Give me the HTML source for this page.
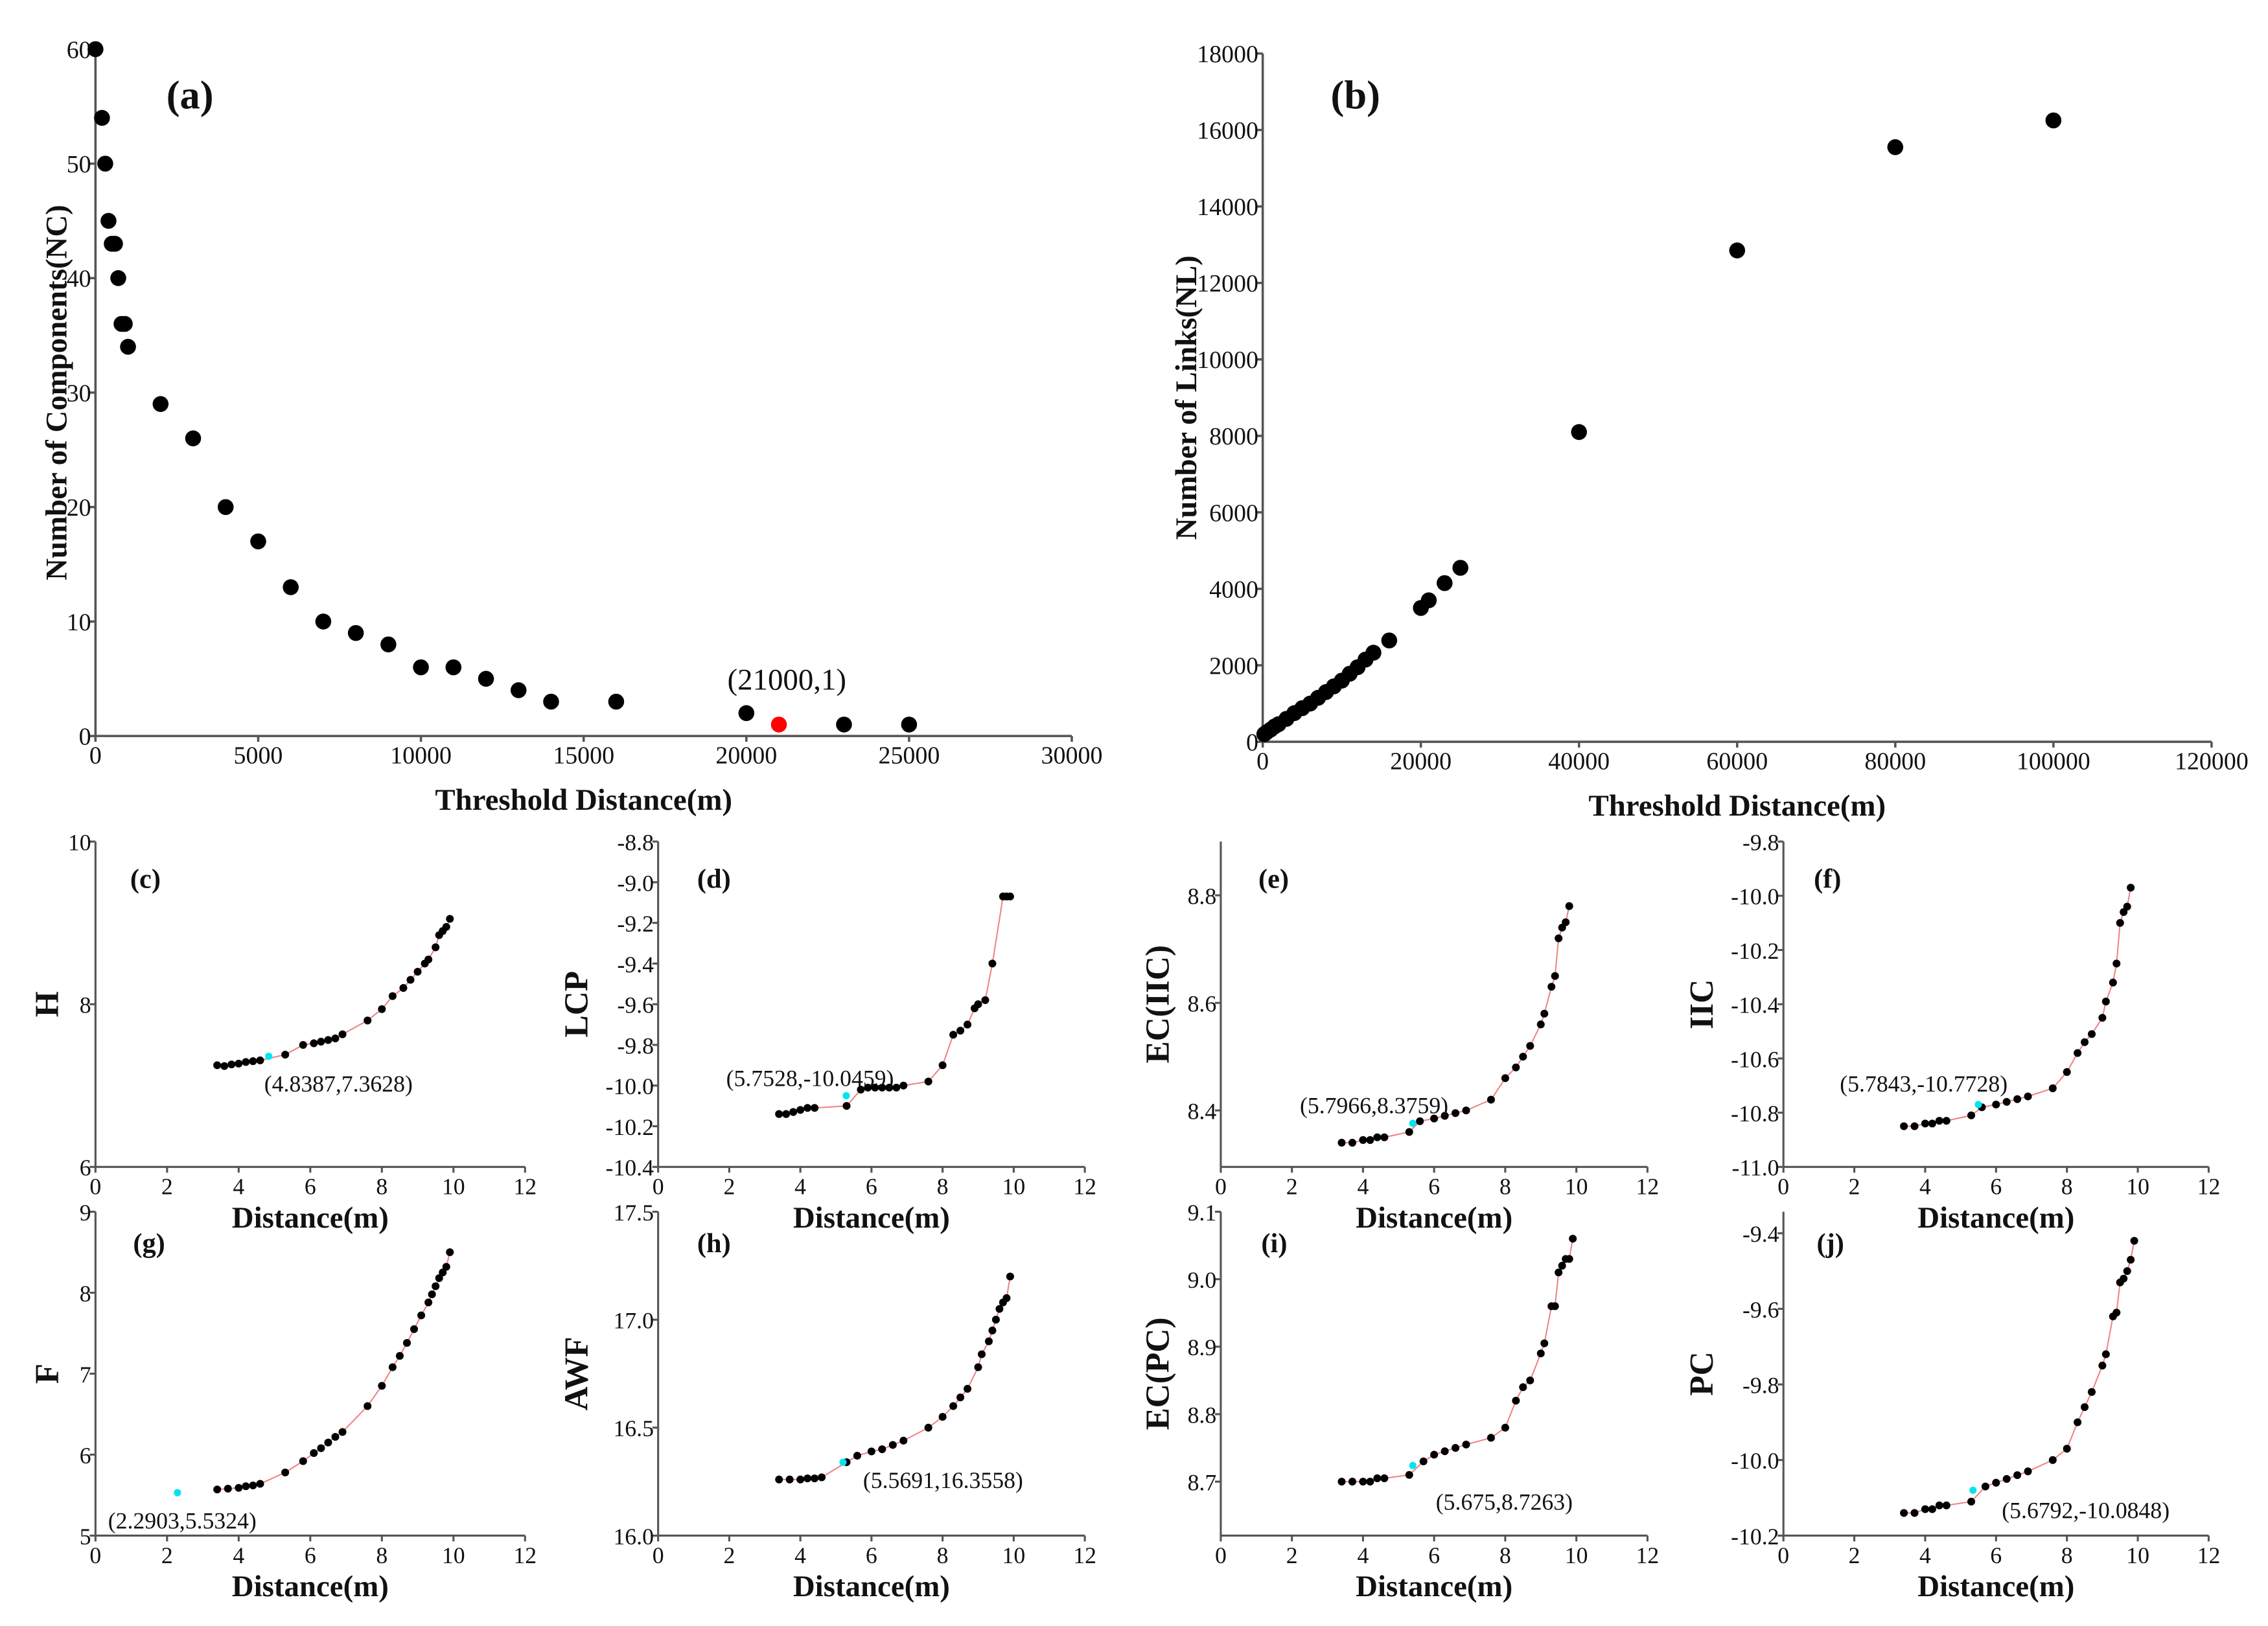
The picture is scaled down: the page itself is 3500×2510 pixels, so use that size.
<!DOCTYPE html>
<html><head><meta charset="utf-8"><style>
html,body{margin:0;padding:0;background:#fff;}
svg{display:block;}
text{font-family:"Liberation Serif",serif;fill:#111;}
</style></head><body>
<svg id="fig" width="3500" height="2510" viewBox="0 0 1568 1124.5" xmlns="http://www.w3.org/2000/svg"></svg>
<script>
// ---- Panel (a) data ----
const aX = [0,200,300,400,500,600,700,800,900,1000,2000,3000,4000,5000,6000,7000,8000,9000,10000,11000,12000,13000,14000,16000,20000,21000,23000,25000];
const aY = [60,54,50,45,43,43,40,36,36,34,29,26,20,17,13,10,9,8,6,6,5,4,3,3,2,1,1,1];
const aXTicks = [0,5000,10000,15000,20000,25000,30000];
const aYTicks = [0,10,20,30,40,50,60];
// ---- Panel (b) data ----
const bX = [200,500,1000,1500,2000,3000,4000,5000,6000,7000,8000,9000,10000,11000,12000,13000,14000,16000,20000,21000,23000,25000,40000,60000,80000,100000];
const bY = [200,250,320,400,460,600,750,880,1000,1150,1300,1450,1600,1780,1950,2150,2330,2650,3500,3700,4150,4550,8100,12850,15550,16250];
const bXTicks = [0,20000,40000,60000,80000,100000,120000];
const bYTicks = [0,2000,4000,6000,8000,10000,12000,14000,16000,18000];
// ---- small panels shared x ----
const distTicks = [0,2,4,6,8,10,12];
const cX = [3.4,3.6,3.8,4.0,4.2,4.4,4.6,5.3,5.8,6.1,6.3,6.5,6.7,6.9,7.6,8.0,8.3,8.6,8.8,9.0,9.2,9.3,9.5,9.6,9.7,9.8,9.9];
const cY = [7.25,7.24,7.26,7.27,7.29,7.30,7.31,7.38,7.50,7.52,7.54,7.56,7.58,7.63,7.80,7.94,8.10,8.20,8.30,8.40,8.50,8.55,8.70,8.85,8.90,8.95,9.05];
const cHi = [4.84,7.36];
const dX = [3.4,3.6,3.8,4.0,4.2,4.4,5.3,5.7,5.9,6.1,6.3,6.5,6.7,6.9,7.6,8.0,8.3,8.5,8.7,8.9,9.0,9.2,9.4,9.7,9.8,9.9];
const dY = [-10.14,-10.14,-10.13,-10.12,-10.11,-10.11,-10.10,-10.02,-10.01,-10.01,-10.01,-10.01,-10.01,-10.0,-9.98,-9.90,-9.75,-9.73,-9.70,-9.62,-9.60,-9.58,-9.40,-9.07,-9.07,-9.07];
const dHi = [5.29,-10.05];
const eX = [3.4,3.7,4.0,4.2,4.4,4.6,5.3,5.6,6.0,6.3,6.6,6.9,7.6,8.0,8.3,8.5,8.7,9.0,9.1,9.3,9.4,9.5,9.6,9.7,9.8];
const eY = [8.34,8.34,8.345,8.345,8.35,8.35,8.36,8.38,8.385,8.39,8.395,8.40,8.42,8.46,8.48,8.50,8.52,8.56,8.58,8.63,8.65,8.72,8.74,8.75,8.78];
const eHi = [5.4,8.376];
const fX = [3.4,3.7,4.0,4.2,4.4,4.6,5.3,5.6,6.0,6.3,6.6,6.9,7.6,8.0,8.3,8.5,8.7,9.0,9.1,9.3,9.4,9.5,9.6,9.7,9.8];
const fY = [-10.85,-10.85,-10.84,-10.84,-10.83,-10.83,-10.81,-10.78,-10.77,-10.76,-10.75,-10.74,-10.71,-10.65,-10.58,-10.54,-10.51,-10.45,-10.39,-10.32,-10.25,-10.10,-10.06,-10.04,-9.97];
const fHi = [5.5,-10.77];
const gX = [3.4,3.7,4.0,4.2,4.4,4.6,5.3,5.8,6.1,6.3,6.5,6.7,6.9,7.6,8.0,8.3,8.5,8.7,8.9,9.1,9.3,9.4,9.5,9.6,9.7,9.8,9.9];
const gY = [5.57,5.58,5.59,5.61,5.62,5.64,5.78,5.92,6.02,6.08,6.15,6.22,6.28,6.60,6.85,7.08,7.22,7.38,7.55,7.72,7.88,7.98,8.08,8.18,8.25,8.32,8.50];
const gHi = [2.29,5.53];
const hX = [3.4,3.7,4.0,4.2,4.4,4.6,5.3,5.6,6.0,6.3,6.6,6.9,7.6,8.0,8.3,8.5,8.7,9.0,9.1,9.3,9.4,9.5,9.6,9.7,9.8,9.9];
const hY = [16.26,16.26,16.26,16.265,16.265,16.27,16.34,16.37,16.39,16.40,16.42,16.44,16.50,16.55,16.60,16.64,16.68,16.78,16.84,16.90,16.95,17.00,17.05,17.08,17.10,17.20];
const hHi = [5.2,16.34];
const iX = [3.4,3.7,4.0,4.2,4.4,4.6,5.3,5.7,6.0,6.3,6.6,6.9,7.6,8.0,8.3,8.5,8.7,9.0,9.1,9.3,9.4,9.5,9.6,9.7,9.8,9.9];
const iY = [8.70,8.70,8.70,8.70,8.705,8.705,8.71,8.73,8.74,8.745,8.75,8.755,8.765,8.78,8.82,8.84,8.85,8.89,8.905,8.96,8.96,9.01,9.02,9.03,9.03,9.06];
const iHi = [5.4,8.724];
const jX = [3.4,3.7,4.0,4.2,4.4,4.6,5.3,5.7,6.0,6.3,6.6,6.9,7.6,8.0,8.3,8.5,8.7,9.0,9.1,9.3,9.4,9.5,9.6,9.7,9.8,9.9];
const jY = [-10.14,-10.14,-10.13,-10.13,-10.12,-10.12,-10.11,-10.07,-10.06,-10.05,-10.04,-10.03,-10.00,-9.97,-9.90,-9.86,-9.82,-9.75,-9.72,-9.62,-9.61,-9.53,-9.52,-9.50,-9.47,-9.42];
const jHi = [5.35,-10.08];

const NS = "http://www.w3.org/2000/svg";
const svg = document.getElementById('fig');
function el(tag, attrs, parent) {
  const e = document.createElementNS(NS, tag);
  for (const k in attrs) e.setAttribute(k, attrs[k]);
  (parent || svg).appendChild(e);
  return e;
}
function txt(s, attrs, parent) { const t = el('text', attrs, parent); t.textContent = s; return t; }

function panel(cfg) {
  const g = el('g', {});
  
  
  const sx = v => cfg.x0 + (v - cfg.xmin) / (cfg.xmax - cfg.xmin) * (cfg.x1 - cfg.x0);
  const sy = v => cfg.y0 - (v - cfg.ymin) / (cfg.ymax - cfg.ymin) * (cfg.y0 - cfg.y1);
  const axes = el('g', {stroke: '#555', 'stroke-width': cfg.big ? 1.6 : 1.4, fill: 'none'}, g);
  const xa = el('line', {x1: cfg.x0, y1: cfg.y0, x2: cfg.x1, y2: cfg.y0}, axes);
  
  
  const ya = el('line', {x1: cfg.x0, y1: cfg.y0, x2: cfg.x0, y2: cfg.y1}, axes);
  
  
  const fs = cfg.big ? 17 : 16;
  cfg.xt.forEach(v => {
    el('line', {x1: sx(v), y1: cfg.y0, x2: sx(v), y2: cfg.y0 + 4}, axes);
    const t = txt(String(v), {x: sx(v), y: cfg.y0 + 19, 'font-size': fs, 'text-anchor': 'middle'}, g);
    
    
  });
  cfg.yt.forEach(v => {
    el('line', {x1: cfg.x0, y1: sy(v), x2: cfg.x0 - 4, y2: sy(v)}, axes);
    const s = cfg.dec != null ? v.toFixed(cfg.dec) : String(v);
    const t = txt(s, {x: cfg.x0 - 3, y: sy(v) + 6, 'font-size': fs, 'text-anchor': 'end'}, g);
    
    
  });
  if (cfg.fit) {
    const pts = cfg.X.map((x, i) => sx(x) + ',' + sy(cfg.Y[i])).join(' ');
    const pl = el('polyline', {points: pts, fill: 'none', stroke: '#f08080', 'stroke-width': 0.9}, g);
    
    
  }
  cfg.X.forEach((x, i) => {
    const c = el('circle', {cx: sx(x), cy: sy(cfg.Y[i]), r: cfg.r, fill: (cfg.red === i) ? '#f00' : '#000'}, g);
    
    
  });
  if (cfg.hi) {
    const c = el('circle', {cx: sx(cfg.hi[0]), cy: sy(cfg.hi[1]), r: 2.5, fill: '#00e5ee'}, g);
    
    
    const t = txt(cfg.hiLabel, {x: cfg.hlx, y: cfg.hly, 'font-size': 16, 'text-anchor': 'middle'}, g);
    
    
  }
  const pl = txt(cfg.tag, {x: cfg.tx, y: cfg.ty, 'font-size': cfg.big ? 28 : 19, 'font-weight': 'bold'}, g);
  
  
  const xt = txt(cfg.xtitle, {x: (cfg.x0 + cfg.x1) / 2, y: cfg.y0 + (cfg.big ? 51 : 42), 'font-size': 21, 'font-weight': 'bold', 'text-anchor': 'middle'}, g);
  
  
  const ym = (cfg.y0 + cfg.y1) / 2;
  const yt = txt(cfg.ytitle, {x: cfg.ytx, y: ym, 'font-size': cfg.big ? 21 : 23, 'font-weight': 'bold', 'text-anchor': 'middle', transform: 'rotate(-90 ' + cfg.ytx + ' ' + ym + ')'}, g);
  
  
}

panel({name:'panel-a-components', big:true, x0:66, x1:741, y0:509, y1:34, xmin:0, xmax:30000, ymin:0, ymax:60, xt:aXTicks, yt:aYTicks, X:aX, Y:aY, r:5.5, red:25, tag:'(a)', tx:115, ty:75, xtitle:'Threshold Distance(m)', ytitle:'Number of Components(NC)', ytx:46});
(function(){const t=txt('(21000,1)',{x:544,y:477,'font-size':21,'text-anchor':'middle'});})();
panel({name:'panel-b-links', big:true, x0:873, x1:1529, y0:513, y1:37, xmin:0, xmax:120000, ymin:0, ymax:18000, xt:bXTicks, yt:bYTicks, X:bX, Y:bY, r:5.5, tag:'(b)', tx:920, ty:75, xtitle:'Threshold Distance(m)', ytitle:'Number of Links(NL)', ytx:827});

const row1 = {y0:807, y1:582}, row2 = {y0:1062, y1:838};
const cols = [{x0:66,x1:363},{x0:455,x1:750},{x0:844,x1:1139},{x0:1233,x1:1527}];
const ytx = [36, 406, 808, 1184];
function sp(o){ panel(Object.assign({xmin:0,xmax:12,xt:distTicks,r:2.7,fit:true,xtitle:'Distance(m)'},o)); }
sp(Object.assign({name:'panel-c-H', ymin:6, ymax:10, yt:[6,8,10], X:cX, Y:cY, hi:cHi, hiLabel:'(4.8387,7.3628)', hlx:234, hly:755, tag:'(c)', tx:90, ty:614, ytitle:'H', ytx:ytx[0]+4}, cols[0], row1));
sp(Object.assign({name:'panel-d-LCP', ymin:-10.4, ymax:-8.8, yt:[-10.4,-10.2,-10.0,-9.8,-9.6,-9.4,-9.2,-9.0,-8.8], dec:1, X:dX, Y:dY, hi:dHi, hiLabel:'(5.7528,-10.0459)', hlx:560, hly:751, tag:'(d)', tx:482, ty:614, ytitle:'LCP', ytx:ytx[1]}, cols[1], row1));
sp(Object.assign({name:'panel-e-ECIIC', ymin:8.295, ymax:8.9, yt:[8.4,8.6,8.8], dec:1, X:eX, Y:eY, hi:eHi, hiLabel:'(5.7966,8.3759)', hlx:950, hly:770, tag:'(e)', tx:870, ty:614, ytitle:'EC(IIC)', ytx:ytx[2]}, cols[2], row1));
sp(Object.assign({name:'panel-f-IIC', ymin:-11.0, ymax:-9.8, yt:[-11.0,-10.8,-10.6,-10.4,-10.2,-10.0,-9.8], dec:1, X:fX, Y:fY, hi:fHi, hiLabel:'(5.7843,-10.7728)', hlx:1330, hly:755, tag:'(f)', tx:1254, ty:614, ytitle:'IIC', ytx:ytx[3]}, cols[3], row1));
sp(Object.assign({name:'panel-g-F', ymin:5, ymax:9, yt:[5,6,7,8,9], X:gX, Y:gY, hi:gHi, hiLabel:'(2.2903,5.5324)', hlx:126, hly:1057, tag:'(g)', tx:92, ty:866, ytitle:'F', ytx:ytx[0]+4}, cols[0], row2));
sp(Object.assign({name:'panel-h-AWF', ymin:16.0, ymax:17.5, yt:[16.0,16.5,17.0,17.5], dec:1, X:hX, Y:hY, hi:hHi, hiLabel:'(5.5691,16.3558)', hlx:652, hly:1029, tag:'(h)', tx:482, ty:866, ytitle:'AWF', ytx:ytx[1]}, cols[1], row2));
sp(Object.assign({name:'panel-i-ECPC', ymin:8.62, ymax:9.1, yt:[8.7,8.8,8.9,9.0,9.1], dec:1, X:iX, Y:iY, hi:iHi, hiLabel:'(5.675,8.7263)', hlx:1040, hly:1044, tag:'(i)', tx:872, ty:866, ytitle:'EC(PC)', ytx:ytx[2]}, cols[2], row2));
sp(Object.assign({name:'panel-j-PC', ymin:-10.2, ymax:-9.343, yt:[-10.2,-10.0,-9.8,-9.6,-9.4], dec:1, X:jX, Y:jY, hi:jHi, hiLabel:'(5.6792,-10.0848)', hlx:1442, hly:1050, tag:'(j)', tx:1256, ty:866, ytitle:'PC', ytx:ytx[3]}, cols[3], row2));
</script>
</body></html>
